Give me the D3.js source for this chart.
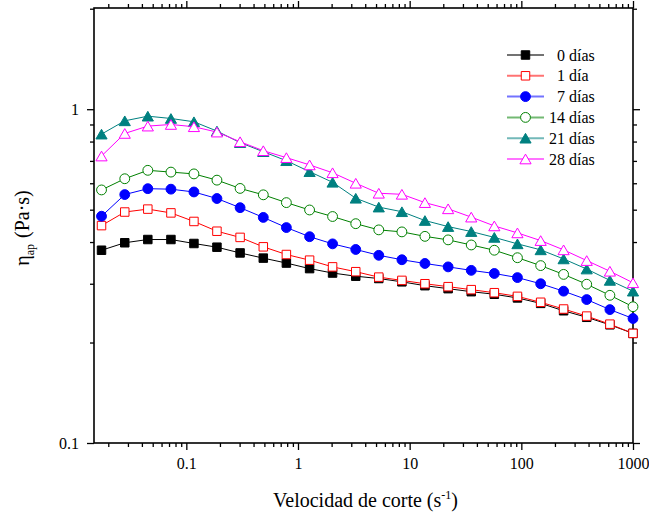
<!DOCTYPE html>
<html>
<head>
<meta charset="utf-8">
<script src="https://cdn.jsdelivr.net/npm/d3@7/dist/d3.min.js"></script>
<style>
  html, body { margin: 0; padding: 0; background: #fff; }
  svg { display: block; }
</style>
</head>
<body>
<svg id="chart" width="649" height="515"></svg>
<script>
// Shear rate (s^-1) of each measured point
const shearRate = [0.0174, 0.0281, 0.0452, 0.0728, 0.117, 0.188, 0.303, 0.489, 0.787, 1.27,
                   2.04, 3.29, 5.29, 8.52, 13.7, 22.1, 35.6, 57.3, 92.3, 149, 239, 385, 621, 1000];

// Apparent viscosity (Pa·s) by storage time
const eta0d = [0.378, 0.398, 0.407, 0.407, 0.396, 0.386, 0.371, 0.358, 0.346, 0.333, 0.323, 0.316,
               0.311, 0.304, 0.296, 0.290, 0.284, 0.279, 0.272, 0.262, 0.249, 0.238, 0.226, 0.213];
const eta1d = [0.448, 0.492, 0.502, 0.489, 0.461, 0.431, 0.413, 0.387, 0.367, 0.353, 0.337, 0.326,
               0.314, 0.307, 0.300, 0.294, 0.288, 0.282, 0.275, 0.264, 0.252, 0.240, 0.227, 0.213];
const eta7d = [0.478, 0.555, 0.578, 0.576, 0.565, 0.540, 0.507, 0.474, 0.442, 0.415, 0.395, 0.380,
               0.365, 0.354, 0.345, 0.337, 0.329, 0.322, 0.313, 0.300, 0.285, 0.269, 0.251, 0.236];
const eta14d = [0.573, 0.619, 0.656, 0.648, 0.640, 0.613, 0.579, 0.554, 0.525, 0.499, 0.477, 0.454,
                0.435, 0.429, 0.416, 0.406, 0.392, 0.378, 0.359, 0.340, 0.320, 0.299, 0.277, 0.256];
const eta21d = [0.842, 0.923, 0.953, 0.938, 0.917, 0.860, 0.794, 0.746, 0.701, 0.650, 0.604, 0.541,
                0.509, 0.493, 0.464, 0.445, 0.430, 0.413, 0.395, 0.379, 0.356, 0.332, 0.307, 0.285];
const eta28d = [0.724, 0.846, 0.890, 0.900, 0.886, 0.854, 0.799, 0.751, 0.716, 0.681, 0.645, 0.600,
                0.560, 0.556, 0.525, 0.503, 0.475, 0.447, 0.426, 0.404, 0.379, 0.352, 0.327, 0.302];

const seriesLabels = ["0 días", "1 día", "7 días", "14 días", "21 días", "28 días"];
const seriesValues = [eta0d, eta1d, eta7d, eta14d, eta21d, eta28d];

const xTickValues = [0.1, 1, 10, 100, 1000];
const xTickLabels = ["0.1", "1", "10", "100", "1000"];
const yTickValues = [0.1, 1];
const yTickLabels = ["0.1", "1"];

// Marker styling per series
const styles = [
  { color: "#000000", shape: "square",   filled: true  },
  { color: "#ff0000", shape: "square",   filled: false },
  { color: "#0000ff", shape: "circle",   filled: true  },
  { color: "#008000", shape: "circle",   filled: false },
  { color: "#008080", shape: "triangle", filled: true  },
  { color: "#ff00ff", shape: "triangle", filled: false }
];

const FONT = '"Liberation Serif"';

const svg = d3.select("#chart");
const plotLeft = 94, plotRight = 633, plotTop = 8, plotBottom = 443;

const x = d3.scaleLog().domain([0.0149, 1000]).range([plotLeft, plotRight]);
const y = d3.scaleLog().domain([0.1, 2.01]).range([plotBottom, plotTop]);

// ---- axes ----
const xMinor = x.ticks().filter(v => !xTickValues.some(t => Math.abs(t - v) / t < 1e-9));
const yMinor = y.ticks().filter(v => !yTickValues.some(t => Math.abs(t - v) / t < 1e-9));

function drawAxis(axisFn, pos, values, size, labels) {
  const g = svg.append("g").attr("transform", pos);
  const ax = axisFn.tickValues(values).tickSize(size).tickSizeOuter(0)
    .tickPadding(8)
    .tickFormat(labels ? ((d, i) => labels[i]) : () => "");
  g.call(ax);
  g.attr("font-family", null).attr("font-size", null);
  g.select(".domain").remove();
  g.selectAll(".tick line").attr("stroke", "#000").attr("stroke-width", 1.3);
  g.selectAll(".tick text").attr("fill", "#000")
    .style("font-family", FONT).style("font-size", "16px");
  return g;
}

drawAxis(d3.axisBottom(x), `translate(0,${plotBottom})`, xTickValues, 7, xTickLabels);
drawAxis(d3.axisBottom(x), `translate(0,${plotBottom})`, xMinor, 4, null);
drawAxis(d3.axisTop(x), `translate(0,${plotTop})`, xTickValues, 7, null);
drawAxis(d3.axisTop(x), `translate(0,${plotTop})`, xMinor, 4, null);
drawAxis(d3.axisLeft(y), `translate(${plotLeft},0)`, yTickValues, 7, yTickLabels);
drawAxis(d3.axisLeft(y), `translate(${plotLeft},0)`, yMinor, 4, null);
drawAxis(d3.axisRight(y), `translate(${plotRight},0)`, yTickValues, 7, null);
drawAxis(d3.axisRight(y), `translate(${plotRight},0)`, yMinor, 4, null);

// frame
svg.append("rect")
  .attr("x", plotLeft).attr("y", plotTop)
  .attr("width", plotRight - plotLeft).attr("height", plotBottom - plotTop)
  .attr("fill", "none").attr("stroke", "#000").attr("stroke-width", 1.6);

// ---- symbols ----
function symbolPath(shape) {
  if (shape === "square") return d3.symbol(d3.symbolSquare, 72)();
  if (shape === "circle") return d3.symbol(d3.symbolCircle, 76)();
  return d3.symbol(d3.symbolTriangle, 54)();
}
// triangles drawn so their bounding box is centred on the point
function symbolOffset(shape) {
  return shape === "triangle" ? 1.6 : 0;
}

const line = d3.line()
  .x(d => x(d[0]))
  .y(d => y(d[1]));

const plot = svg.append("g");
seriesValues.forEach((vals, si) => {
  const st = styles[si];
  const pts = shearRate.map((r, i) => [r, vals[i]]);
  const g = plot.append("g");
  g.append("path")
    .attr("d", line(pts))
    .attr("fill", "none")
    .attr("stroke", st.color)
    .attr("stroke-width", 1);
  g.selectAll("path.mk").data(pts).join("path")
    .attr("class", "mk")
    .attr("d", symbolPath(st.shape))
    .attr("transform", d => `translate(${x(d[0])},${y(d[1]) + symbolOffset(st.shape)})`)
    .attr("fill", st.filled ? st.color : "#fff")
    .attr("stroke", st.color)
    .attr("stroke-width", 1);
});

// ---- legend ----
const legend = svg.append("g");
const legX0 = 507, legX1 = 544, legY0 = 55, legDy = 20.8, textX = 549;
seriesLabels.forEach((lab, si) => {
  const st = styles[si];
  const cy = legY0 + si * legDy;
  legend.append("line")
    .attr("x1", legX0).attr("x2", legX1).attr("y1", cy).attr("y2", cy)
    .attr("stroke", st.color).attr("stroke-width", 2).attr("stroke-opacity", 0.55);
  legend.append("path")
    .attr("d", symbolPath(st.shape))
    .attr("transform", `translate(${(legX0 + legX1) / 2},${cy + symbolOffset(st.shape)})`)
    .attr("fill", st.filled ? st.color : "#fff")
    .attr("stroke", st.color).attr("stroke-width", 1);
  const singleDigit = /^\d\s/.test(lab);
  legend.append("text")
    .attr("x", textX + (singleDigit ? 8 : 0))
    .attr("y", cy + 5.5)
    .style("font-family", FONT).style("font-size", "16px")
    .attr("fill", "#000")
    .text(lab);
});

// ---- axis titles ----
const xt = svg.append("text")
  .attr("x", (plotLeft + plotRight) / 2 + 2).attr("y", 507)
  .attr("text-anchor", "middle")
  .style("font-family", FONT).style("font-size", "20px").attr("fill", "#000");
xt.append("tspan").text("Velocidad de corte (s");
xt.append("tspan").style("font-size", "12px").attr("dy", -8).text("-1");
xt.append("tspan").attr("dy", 8).text(")");

const yt = svg.append("text")
  .attr("transform", "translate(28.5,228) rotate(-90)")
  .attr("text-anchor", "middle")
  .style("font-family", FONT).style("font-size", "20px").attr("fill", "#000");
yt.append("tspan").text("η");
yt.append("tspan").style("font-size", "12px").attr("dy", 5).text("ap");
yt.append("tspan").attr("dy", -5).attr("dx", 6).text("(Pa·s)");
</script>
</body>
</html>
